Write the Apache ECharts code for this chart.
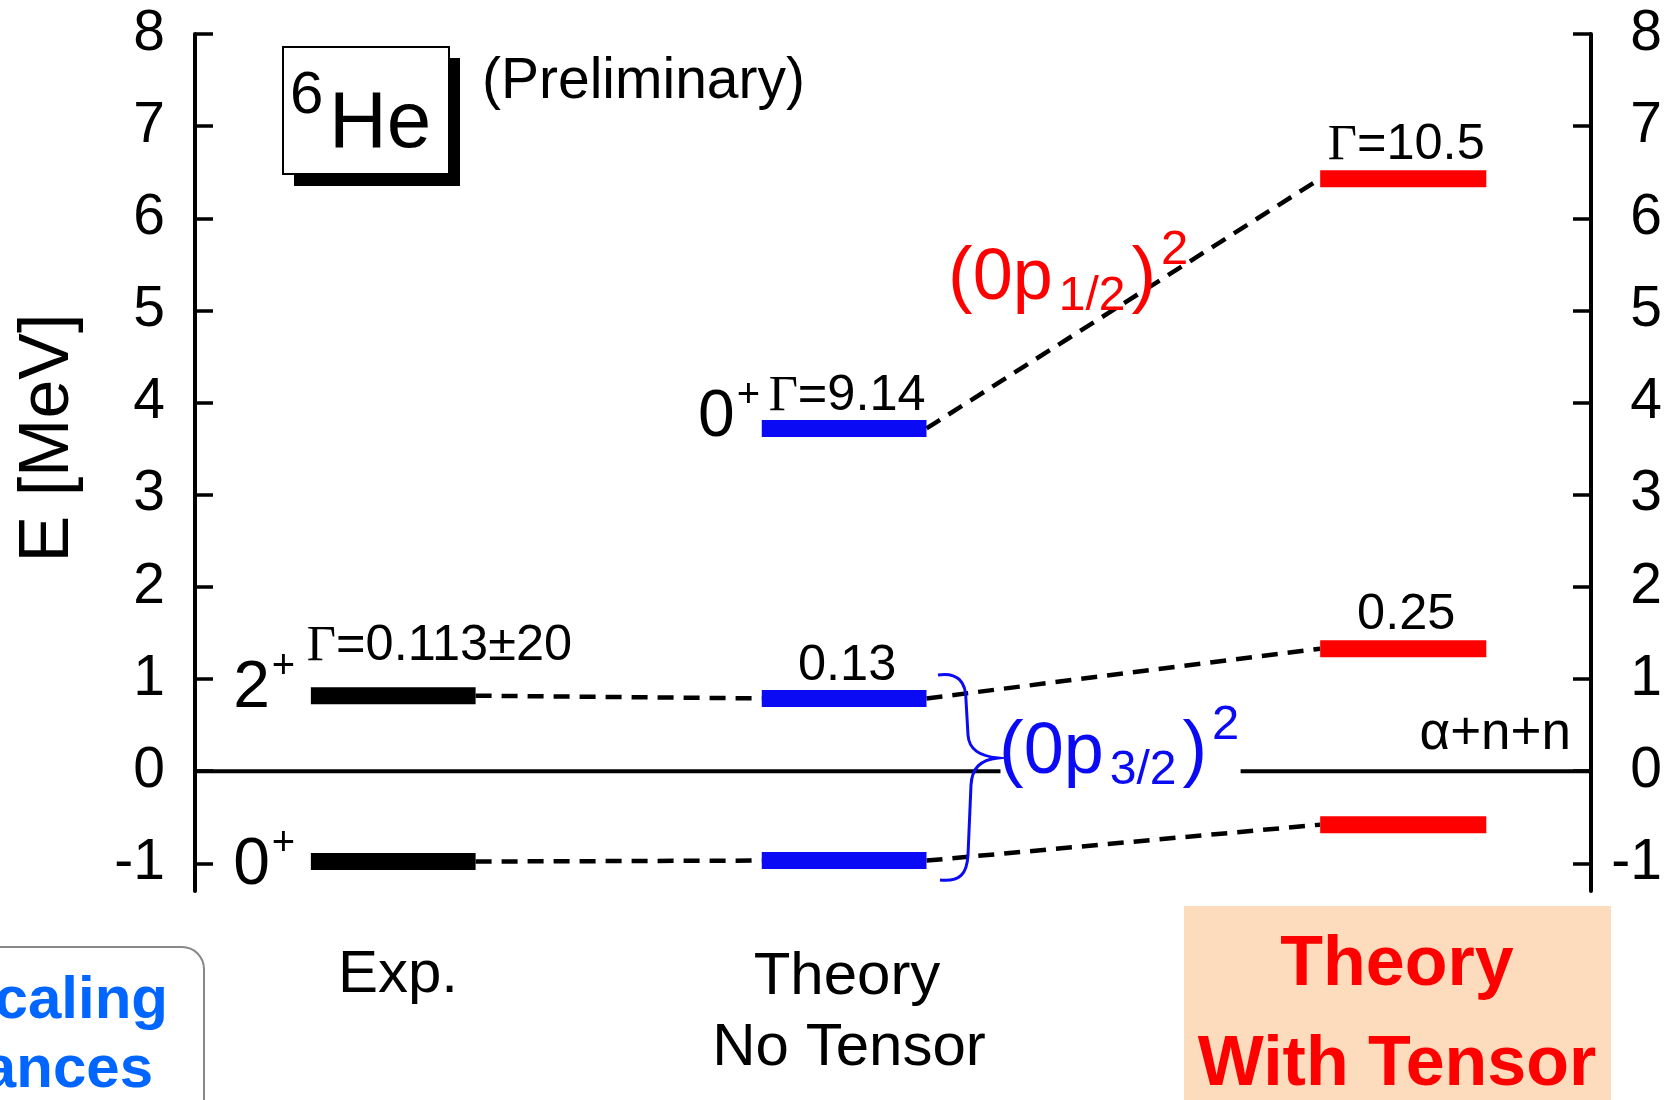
<!DOCTYPE html>
<html>
<head>
<meta charset="utf-8">
<title>6He levels</title>
<script src="https://cdn.jsdelivr.net/npm/echarts@6.0.0/dist/echarts.min.js"></script>
<style>
html,body{margin:0;padding:0;background:#ffffff;}
#chart{width:1674px;height:1100px;}
</style>
</head>
<body>
<div id="chart"></div>
<script>
// ===================== DATA =====================
const categories = ['Exp.', 'Theory\nNo Tensor', 'Theory\nWith Tensor'];
const expLevels = [0.82, -0.98];
const noTensorLevels = [3.72, 0.79, -0.97];
const tensorLevels = [6.43, 1.33, -0.58];
const expSpins = ['2+', '0+'];
const noTensorSpins = ['0+', '', ''];
const tensorSpins = ['', '', ''];
const expWidths = ['Γ=0.113±20', ''];
const noTensorWidths = ['Γ=9.14', '0.13', ''];
const tensorWidths = ['Γ=10.5', '0.25', ''];
// [fromColumn, fromLevel, toColumn, toLevel]
const connections = [[0, 0, 1, 1], [0, 1, 1, 2], [1, 0, 2, 0], [1, 1, 2, 1], [1, 2, 2, 2]];
const yTickValues = [-1, 0, 1, 2, 3, 4, 5, 6, 7, 8];
const yMin = -1.3, yMax = 8;
const thresholdEnergy = 0;
const thresholdLabel = 'α+n+n';
const yAxisName = 'E [MeV]';
const nucleusMass = '6', nucleusName = 'He';
const noteText = '(Preliminary)';

// ===================== LAYOUT / STYLE =====================
const FONT = 'Liberation Sans';
const SERIF = 'Liberation Serif';
const COL_X = [[8.3, 20.1], [40.6, 52.4], [80.6, 92.5]];   // x-axis units (0..100)
const COL_COLOR = ['#000000', '#0a0af5', '#ff0000'];
const BAR_H = 17;
const ZERO_GAP = [57.7, 74.9];
const SPIN_LAYOUT = [{gap: 41, dy: [16, 27]}, {gap: 27, dy: [12, 0, 0]}];
const WIDTH_LAYOUT = [{align: 'left', dx: -4, dy: -32}, {align: 'center', dx: 3, dy: -15}, {align: 'center', dx: 3, dy: -16}];
const RED = '#ff0000', BLUE = '#0a0af5';

const levelsByCol = [expLevels, noTensorLevels, tensorLevels];
const spinsByCol = [expSpins, noTensorSpins, tensorSpins];
const widthsByCol = [expWidths, noTensorWidths, tensorWidths];

const mctx = document.createElement('canvas').getContext('2d');
function tw(text, size, family, weight) {
  mctx.font = (weight || 'normal') + ' ' + size + 'px "' + family + '"';
  return mctx.measureText(text).width;
}
const MID = {'Liberation Sans': 0.3465, 'Liberation Serif': 0.3375};
function txt(text, x, baseline, size, o) {
  o = o || {};
  const fam = o.family || FONT;
  const al = o.align || 'left';
  return {
    type: 'text', x: x, y: baseline - MID[fam] * size, silent: true,
    rotation: o.rotation || 0, z: 100,
    style: {
      text: text, fontSize: size, fontFamily: fam, fontWeight: o.weight || 'normal',
      fill: o.color || '#000', align: al, verticalAlign: 'middle',
      textAlign: al, textVerticalAlign: 'middle'
    }
  };
}
function runs(parts, x, baseline, align) {
  const widths = parts.map(p => tw(p.t, p.size, p.family || FONT, p.weight) + (p.gap || 0));
  const total = widths.reduce((a, b) => a + b, 0);
  let cx = align === 'center' ? x - total / 2 : align === 'right' ? x - total : x;
  return parts.map((p, k) => {
    const el = txt(p.t, cx, baseline + (p.dy || 0), p.size, {family: p.family, weight: p.weight, color: p.color});
    cx += widths[k];
    return el;
  });
}

// ---------- series data built from arrays ----------
const levelData = [];
levelsByCol.forEach((arr, c) => arr.forEach((e, i) => levelData.push([c, e, i])));
const connData = connections.map(cn => [cn[0], levelsByCol[cn[0]][cn[1]], cn[2], levelsByCol[cn[2]][cn[3]]]);
const zeroData = [[0, ZERO_GAP[0], thresholdEnergy], [ZERO_GAP[1], 100, thresholdEnergy]];

function renderLevel(params, api) {
  const c = api.value(0), e = api.value(1), i = api.value(2);
  const p0 = api.coord([COL_X[c][0], e]);
  const p1 = api.coord([COL_X[c][1], e]);
  const children = [{
    type: 'rect', shape: {x: p0[0], y: p0[1] - BAR_H / 2, width: p1[0] - p0[0], height: BAR_H},
    style: {fill: COL_COLOR[c]}
  }];
  const spin = spinsByCol[c][i];
  if (spin) {
    const L = SPIN_LAYOUT[c];
    const base = p0[1] + L.dy[i];
    const xr = p0[0] - L.gap;
    children.push(txt(spin.charAt(0), xr, base, 66, {align: 'right'}));
    children.push(txt(spin.slice(1), xr + 2, base - 31, 40, {align: 'left'}));
  }
  const w = widthsByCol[c][i];
  if (w) {
    const L = WIDTH_LAYOUT[c];
    const parts = w.charAt(0) === 'Γ'
      ? [{t: 'Γ', size: 50.5, family: SERIF}, {t: w.slice(1), size: 50.5}]
      : [{t: w, size: 50.5}];
    const ax = L.align === 'left' ? p0[0] + L.dx : (p0[0] + p1[0]) / 2 + L.dx;
    runs(parts, ax, p0[1] + L.dy, L.align).forEach(el => children.push(el));
  }
  return {type: 'group', children: children};
}

function renderConn(params, api) {
  const c1 = api.value(0), e1 = api.value(1), c2 = api.value(2), e2 = api.value(3);
  const a = api.coord([COL_X[c1][1], e1]);
  const b = api.coord([COL_X[c2][0], e2]);
  return {
    type: 'line', shape: {x1: a[0], y1: a[1], x2: b[0], y2: b[1]},
    style: {stroke: '#000', lineWidth: 4.5, lineDash: [16, 10]}
  };
}

function renderZero(params, api) {
  const a = api.coord([api.value(0), api.value(2)]);
  const b = api.coord([api.value(1), api.value(2)]);
  return {type: 'line', shape: {x1: a[0], y1: a[1], x2: b[0], y2: b[1]}, style: {stroke: '#000', lineWidth: 4}};
}

// brace next to the No-Tensor (0p3/2)^2 pair (pixel annotation)
function renderBrace(params, api) {
  return {
    type: 'path',
    shape: {pathData: 'M938 675 C958 672 966 682 966 700 L968 735 C969 750 980 756 998 758 C980 760 972 768 971 785 L968 855 C967 874 960 882 940 880'},
    style: {fill: 'none', stroke: BLUE, lineWidth: 3}
  };
}

// ---------- annotations (pixel layout) ----------
const graphics = [];
graphics.push({type: 'rect', shape: {x: 294, y: 58, width: 166, height: 128}, style: {fill: '#000'}, silent: true});
graphics.push({type: 'rect', shape: {x: 283, y: 47, width: 166, height: 127}, style: {fill: '#fff', stroke: '#000', lineWidth: 2}, silent: true});
graphics.push(txt(nucleusMass, 290, 117, 60));
graphics.push(txt(nucleusName, 329, 153, 80));
graphics.push(txt(noteText, 482, 102, 57));
const yname = txt(yAxisName, 49, 438, 70, {align: 'center', rotation: Math.PI / 2});
yname.x = 49; yname.y = 438;
graphics.push(yname);
graphics.push(txt(thresholdLabel, 1571, 753, 53, {align: 'right'}));
// (0p1/2)^2 red
runs([
  {t: '(', size: 74, color: RED},
  {t: '0p', size: 72, color: RED, gap: 6},
  {t: '1/2', size: 48, color: RED, dy: 9, gap: 6},
  {t: ')', size: 74, color: RED, gap: 5},
  {t: '2', size: 49, color: RED, dy: -37}
], 948, 304, 'left').forEach(el => graphics.push(el));
// (0p3/2)^2 blue
runs([
  {t: '(', size: 74, color: BLUE},
  {t: '0p', size: 72, color: BLUE, gap: 6},
  {t: '3/2', size: 48, color: BLUE, dy: 9, gap: 6},
  {t: ')', size: 74, color: BLUE, gap: 5},
  {t: '2', size: 49, color: BLUE, dy: -36}
], 999, 778, 'left').forEach(el => graphics.push(el));
// category labels
graphics.push(txt('Exp.', 398, 996, 60, {align: 'center'}));
graphics.push(txt('Theory', 847, 998, 60, {align: 'center'}));
graphics.push(txt('No Tensor', 849, 1069, 60, {align: 'center'}));
graphics.push({type: 'rect', shape: {x: 1184, y: 906, width: 427, height: 200}, style: {fill: '#fddcbd'}, silent: true});
graphics.push(txt('Theory', 1397, 990, 70, {align: 'center', weight: 'bold', color: RED}));
graphics.push(txt('With Tensor', 1397, 1090, 70, {align: 'center', weight: 'bold', color: RED}));
// bottom-left rounded box
graphics.push({type: 'rect', shape: {x: -40, y: 947, width: 244, height: 200, r: 22}, style: {fill: '#fff', stroke: '#888', lineWidth: 2}, silent: true});
graphics.push(txt('caling', 168, 1022, 60, {align: 'right', weight: 'bold', color: '#0066ff'}));
graphics.push(txt('ances', 153, 1091, 60, {align: 'right', weight: 'bold', color: '#0066ff'}));

function yAxisCfg(pos) {
  return {
    type: 'value', position: pos, min: yMin, max: yMax,
    axisLine: {show: true, onZero: false, lineStyle: {color: '#000', width: 4}},
    axisTick: {show: true, inside: true, length: 18, customValues: yTickValues, lineStyle: {color: '#000', width: 3.5}},
    axisLabel: {
      show: true, customValues: yTickValues, margin: pos === 'right' ? 71 : 30,
      align: 'right', fontSize: 57, fontFamily: FONT, color: '#000'
    },
    splitLine: {show: false}
  };
}

const chart = echarts.init(document.getElementById('chart'), null, {renderer: 'canvas', width: 1674, height: 1100});
chart.setOption({
  backgroundColor: '#ffffff',
  animation: false,
  grid: {left: 195, right: 83, top: 34, bottom: 209, containLabel: false},
  xAxis: {type: 'value', min: 0, max: 100, show: false},
  yAxis: [yAxisCfg('left'), yAxisCfg('right')],
  series: [
    {type: 'custom', name: 'threshold', renderItem: renderZero, data: zeroData, encode: {x: [0, 1], y: 2}, z: 2, silent: true},
    {type: 'custom', name: 'connections', renderItem: renderConn, data: connData, encode: {y: [1, 3]}, z: 3, silent: true},
    {type: 'custom', name: 'levels', renderItem: renderLevel, data: levelData, encode: {y: 1}, z: 5, silent: true},
    {type: 'custom', name: 'brace', renderItem: renderBrace, data: [[0, 0]], z: 6, silent: true, clip: false}
  ],
  graphic: {elements: graphics}
});
</script>
</body>
</html>
